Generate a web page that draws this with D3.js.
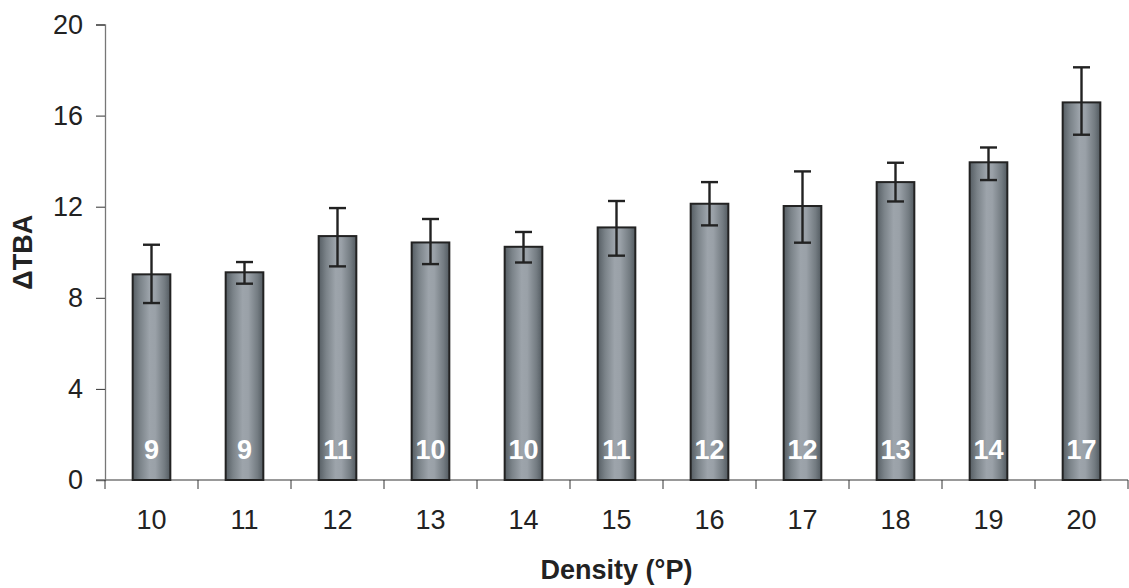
<!DOCTYPE html>
<html><head><meta charset="utf-8">
<script src="https://cdn.jsdelivr.net/npm/d3@7"></script>
<style>body{margin:0;background:#fff}svg{display:block}text{font-family:"Liberation Sans",Arial,sans-serif}</style>
</head><body><svg id="c" width="1129" height="588"></svg>
<script>
const categories = ["10","11","12","13","14","15","16","17","18","19","20"];
const values = [9.03, 9.12, 10.71, 10.43, 10.24, 11.09, 12.13, 12.03, 13.08, 13.95, 16.58];
const errHigh = [10.33, 9.57, 11.94, 11.46, 10.89, 12.25, 13.08, 13.55, 13.93, 14.6, 18.12];
const errLow = [7.77, 8.62, 9.38, 9.48, 9.55, 9.85, 11.18, 10.42, 12.23, 13.17, 15.16];
const barLabels = ["9","9","11","10","10","11","12","12","13","14","17"];
const yTicks = [0, 4, 8, 12, 16, 20];

const FS = 27;
const svg = d3.select("#c");
const L = 105, R = 1128, T = 24.5, B = 480;
const x = d3.scaleBand().domain(categories).range([L, R]).paddingInner(0.595).paddingOuter(0.2975);
const y = d3.scaleLinear().domain([0, 20]).range([B, T]);

const defs = svg.append("defs");
const g = defs.append("linearGradient").attr("id","bg").attr("x1","0").attr("x2","1").attr("y1","0").attr("y2","0");
[[0,"#555d63"],[0.2,"#7b8389"],[0.45,"#9da4ab"],[0.6,"#9aa1a8"],[0.85,"#737b81"],[1,"#525a60"]].forEach(s=>g.append("stop").attr("offset",s[0]).attr("stop-color",s[1]));

// axes
const yAxis = d3.axisLeft(y).tickValues(yTicks).tickSize(9).tickPadding(13);
const ya = svg.append("g").attr("transform",`translate(${L},0)`).call(yAxis);
ya.select(".domain").attr("stroke","#777").attr("stroke-width",1.3);
ya.selectAll(".tick line").attr("stroke","#333");
ya.selectAll("text").attr("font-size",FS).attr("fill","#222").attr("font-family","Liberation Sans, Arial, sans-serif");

const xb = d3.scaleLinear().domain([0, categories.length]).range([L, R]);
const xAxisG = svg.append("g").attr("transform",`translate(0,${B})`);
xAxisG.append("line").attr("x1",L-9).attr("x2",R).attr("stroke","#777").attr("stroke-width",1.3);
xAxisG.selectAll("line.t").data(d3.range(categories.length+1)).join("line").attr("class","t")
  .attr("x1",d=>xb(d)).attr("x2",d=>xb(d)).attr("y1",0).attr("y2",9).attr("stroke","#333");
xAxisG.selectAll("text").data(categories).join("text")
  .attr("x",d=>x(d)+x.bandwidth()/2).attr("y",49).attr("text-anchor","middle")
  .attr("font-size",FS).attr("fill","#222").text(d=>d);

// bars
const bw = x.bandwidth();
svg.selectAll("rect.bar").data(categories).join("rect").attr("class","bar")
  .attr("x",(d)=>x(d)).attr("width",bw)
  .attr("y",(d,i)=>y(values[i])).attr("height",(d,i)=>y(0)-y(values[i]))
  .attr("fill","url(#bg)").attr("stroke","#222").attr("stroke-width",2);

// error bars
const eg = svg.append("g").attr("stroke","#222").attr("stroke-width",2.4);
categories.forEach((c,i)=>{
  const cx = x(c)+bw/2;
  eg.append("line").attr("x1",cx).attr("x2",cx).attr("y1",y(errHigh[i])).attr("y2",y(errLow[i]));
  eg.append("line").attr("x1",cx-8.5).attr("x2",cx+8.5).attr("y1",y(errHigh[i])).attr("y2",y(errHigh[i]));
  eg.append("line").attr("x1",cx-8.5).attr("x2",cx+8.5).attr("y1",y(errLow[i])).attr("y2",y(errLow[i]));
});

// labels in bars
svg.selectAll("text.bl").data(categories).join("text").attr("class","bl")
  .attr("x",d=>x(d)+bw/2).attr("y",459).attr("text-anchor","middle")
  .attr("font-size",FS).attr("font-weight","bold").attr("fill","#fff").text((d,i)=>barLabels[i]);

// axis titles
svg.append("text").attr("x",(L+R)/2).attr("y",579).attr("text-anchor","middle")
  .attr("font-size",FS).attr("font-weight","bold").attr("fill","#222").text("Density (°P)");
svg.append("text").attr("transform",`translate(32,${(T+B)/2}) rotate(-90)`).attr("text-anchor","middle")
  .attr("font-size",FS).attr("font-weight","bold").attr("fill","#222").text("ΔTBA");
</script></body></html>
